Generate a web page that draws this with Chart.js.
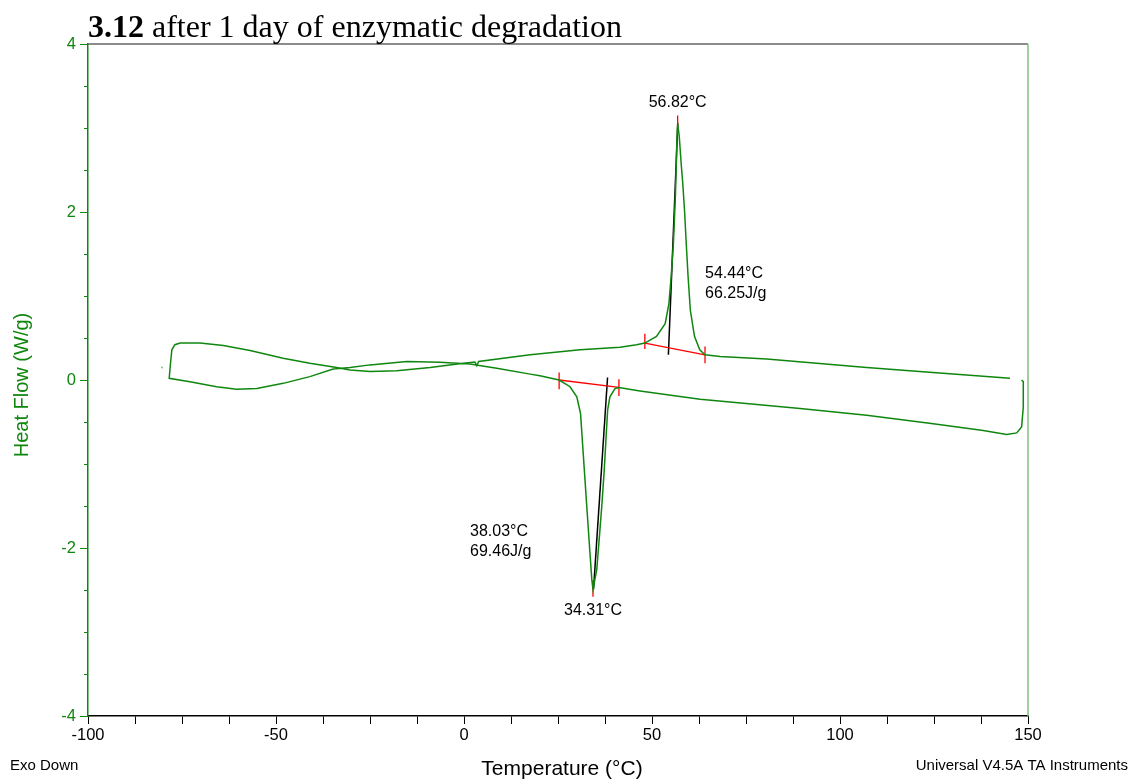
<!DOCTYPE html>
<html>
<head>
<meta charset="utf-8">
<script src="https://cdn.jsdelivr.net/npm/chart.js@4.4.1/dist/chart.umd.min.js"></script>
<style>
  html, body { margin: 0; padding: 0; background: #fff; }
  #dsc { display: block; }
</style>
</head>
<body>
<canvas id="dsc" width="1132" height="780"></canvas>
<script>
// cooling scan, 150 -> -80 °C (crystallisation exotherm points down)
const coolTemp = [148.3, 148.75, 148.75, 148.3, 147.0, 144.3, 138.1, 124.8, 107.1, 89.4, 62.8, 46.8,
  41.2, 40.2, 38.8, 38.2, 37.8, 37.3, 36.7, 36.0, 35.3, 34.31, 34.0, 33.5, 32.6, 31.7, 31.0, 30.0,
  28.2, 25.3, 20.2, 17.6, 8.7, 1.6, -6.4, -15.2, -25.0, -30.3, -34.8, -41.0, -48.1, -55.1, -60.5,
  -65.8, -72.9];
const coolHeat = [0.00, -0.02, -0.32, -0.56, -0.63, -0.65, -0.60, -0.52, -0.42, -0.34, -0.23, -0.13,
  -0.09, -0.10, -0.20, -0.36, -0.67, -1.07, -1.47, -1.87, -2.26, -2.49, -2.38, -2.06, -1.47, -0.87,
  -0.40, -0.20, -0.08, 0.00, 0.05, 0.07, 0.14, 0.19, 0.21, 0.22, 0.18, 0.15, 0.13, 0.04, -0.04,
  -0.10, -0.11, -0.08, -0.02];

// second heating, -80 -> 145 °C (melting endotherm points up)
const heatTemp = [-78.4, -78.1, -77.7, -76.9, -75.5, -70.2, -64.0, -56.9, -48.1, -41.0, -33.9, -30.3,
  -25.0, -17.9, -9.0, -0.2, 2.9, 3.4, 3.9, 17.6, 30.9, 41.5, 45.9, 48.1, 51.2, 53.5, 54.5, 55.1,
  55.7, 56.25, 56.6, 56.82, 57.25, 57.75, 58.15, 58.65, 59.1, 59.6, 60.2, 61.3, 62.7, 64.1, 68.1,
  80.5, 107.1, 124.7, 145.2];
const heatHeat = [0.02, 0.18, 0.36, 0.42, 0.44, 0.44, 0.41, 0.35, 0.26, 0.20, 0.15, 0.12,
  0.10, 0.11, 0.15, 0.20, 0.215, 0.17, 0.22, 0.30, 0.36, 0.39, 0.42, 0.44, 0.52, 0.67, 0.91, 1.23,
  1.63, 2.22, 2.82, 3.05, 2.90, 2.58, 2.36, 2.02, 1.63, 1.23, 0.83, 0.52, 0.36, 0.30, 0.28,
  0.25, 0.15, 0.09, 0.02];

// stray sample point left of the loop
const strayTemp = [-80.3];
const strayHeat = [0.15];

// peak analysis results
const meltPeak = 56.82, meltOnset = 54.44, meltEnthalpy = 66.25;
const crystPeak = 34.31, crystOnset = 38.03, crystEnthalpy = 69.46;

// integration baselines and onset tangents
const meltBaseT = [48.1, 64.1], meltBaseH = [0.44, 0.30];
const meltTanT = [54.36, 56.86], meltTanH = [0.30, 3.06];
const crystBaseT = [25.3, 41.2], crystBaseH = [0.00, -0.087];
const crystTanT = [38.18, 34.45], crystTanH = [0.03, -2.49];

// short vertical markers: baseline limits and peak positions
const markT = [48.1, 64.1, meltPeak, 25.3, 41.2, crystPeak];
const markLo = [0.37, 0.20, 2.98, -0.11, -0.19, -2.58];
const markHi = [0.55, 0.40, 3.15, 0.09, 0.01, -2.38];

const xTicks = { min: -100, max: 150, step: 12.5, major: 50 };
const yTicks = { min: -4, max: 4, step: 0.5, major: 2 };

const GREEN = '#0f870f';
const FONT = '"Liberation Sans", Arial, sans-serif';

const pts = (xs, ys) => xs.map((x, i) => ({ x, y: ys[i] }));
const segments = (xs, lo, hi) => xs.flatMap((x, i) => [{ x, y: lo[i] }, { x, y: hi[i] }, { x, y: null }]);

const loopData = pts(coolTemp, coolHeat).concat(pts(heatTemp, heatHeat));

const annotate = {
  id: 'annotate',
  afterDraw(chart) {
    const { ctx, chartArea: a, scales: { x, y } } = chart;
    ctx.save();

    // frame: top and right edges
    ctx.lineWidth = 1.5;
    ctx.strokeStyle = '#666';
    ctx.beginPath(); ctx.moveTo(a.left, a.top); ctx.lineTo(a.right, a.top); ctx.stroke();
    ctx.strokeStyle = '#7cc07c';
    ctx.beginPath(); ctx.moveTo(a.right, a.top); ctx.lineTo(a.right, a.bottom); ctx.stroke();

    // longer ticks at the labelled heat flow values
    ctx.strokeStyle = GREEN;
    ctx.lineWidth = 1;
    for (let v = yTicks.min; v <= yTicks.max; v += yTicks.major) {
      const py = Math.round(y.getPixelForValue(v)) + 0.5;
      ctx.beginPath(); ctx.moveTo(a.left - 8, py); ctx.lineTo(a.left - 4, py); ctx.stroke();
    }

    // title
    ctx.fillStyle = '#000';
    ctx.textBaseline = 'alphabetic';
    ctx.textAlign = 'left';
    ctx.font = 'bold 32px "Liberation Serif", "Times New Roman", serif';
    ctx.fillText('3.12', a.left, 37);
    const w = ctx.measureText('3.12').width;
    ctx.font = '32px "Liberation Serif", "Times New Roman", serif';
    ctx.fillText(' after 1 day of enzymatic degradation', a.left + w, 37);

    // peak labels
    ctx.font = '16px ' + FONT;
    ctx.textBaseline = 'middle';
    const label = (text, t, h, align) => {
      ctx.textAlign = align;
      ctx.fillText(text, x.getPixelForValue(t), y.getPixelForValue(h));
    };
    label(meltPeak.toFixed(2) + '°C', meltPeak, 3.30, 'center');
    label(meltOnset.toFixed(2) + '°C', 64.1, 1.27, 'left');
    label(meltEnthalpy.toFixed(2) + 'J/g', 64.1, 1.03, 'left');
    label(crystOnset.toFixed(2) + '°C', 1.6, -1.80, 'left');
    label(crystEnthalpy.toFixed(2) + 'J/g', 1.6, -2.04, 'left');
    label(crystPeak.toFixed(2) + '°C', crystPeak, -2.75, 'center');

    // axis titles and footer notes
    ctx.font = '21px ' + FONT;
    ctx.textAlign = 'center';
    ctx.fillText('Temperature (°C)', 562, 769);
    ctx.font = '15px ' + FONT;
    ctx.textAlign = 'left';
    ctx.fillText('Exo Down', 10, 766);
    ctx.textAlign = 'right';
    ctx.fillText('Universal V4.5A TA Instruments', 1128, 766);

    ctx.translate(22, 385);
    ctx.rotate(-Math.PI / 2);
    ctx.textAlign = 'center';
    ctx.fillStyle = GREEN;
    ctx.font = '20px ' + FONT;
    ctx.fillText('Heat Flow (W/g)', 0, 0);
    ctx.restore();
  }
};

new Chart(document.getElementById('dsc'), {
  type: 'scatter',
  data: {
    datasets: [
      { data: loopData, showLine: true, borderColor: GREEN, borderWidth: 1.5, pointRadius: 0, tension: 0 },
      { data: pts(strayTemp, strayHeat), pointRadius: 1, pointBackgroundColor: '#7cc07c', pointBorderWidth: 0 },
      { data: pts(meltBaseT, meltBaseH), showLine: true, borderColor: '#ff0000', borderWidth: 1.3, pointRadius: 0 },
      { data: pts(crystBaseT, crystBaseH), showLine: true, borderColor: '#ff0000', borderWidth: 1.3, pointRadius: 0 },
      { data: segments(markT, markLo, markHi), showLine: true, spanGaps: false, borderColor: '#ff0000', borderWidth: 1.3, pointRadius: 0 },
      { data: pts(meltTanT, meltTanH), showLine: true, borderColor: '#000', borderWidth: 1.5, pointRadius: 0 },
      { data: pts(crystTanT, crystTanH), showLine: true, borderColor: '#000', borderWidth: 1.5, pointRadius: 0 }
    ]
  },
  options: {
    responsive: false,
    animation: false,
    devicePixelRatio: 1,
    layout: { padding: { left: 0, top: 44, right: 104, bottom: 0 } },
    plugins: { legend: { display: false }, tooltip: { enabled: false }, title: { display: false } },
    scales: {
      x: {
        type: 'linear',
        min: xTicks.min, max: xTicks.max,
        afterFit: s => { s.height = 64; },
        border: { color: '#000', width: 1.5 },
        grid: { drawOnChartArea: false, drawTicks: true, tickLength: 8, tickColor: '#000' },
        ticks: {
          stepSize: xTicks.step, autoSkip: false, maxRotation: 0, padding: 2,
          color: '#000', font: { family: FONT, size: 16.5 },
          callback: v => (v % xTicks.major === 0 ? String(v) : '')
        }
      },
      y: {
        type: 'linear',
        min: yTicks.min, max: yTicks.max,
        afterFit: s => { s.width = 88; },
        border: { color: GREEN, width: 1.5 },
        grid: { drawOnChartArea: false, drawTicks: true, tickLength: 4, tickColor: GREEN },
        ticks: {
          stepSize: yTicks.step, autoSkip: false, padding: 8,
          color: GREEN, font: { family: FONT, size: 16.5 },
          callback: v => (v % yTicks.major === 0 ? String(v) : '')
        }
      }
    }
  },
  plugins: [annotate]
});
</script>
</body>
</html>
